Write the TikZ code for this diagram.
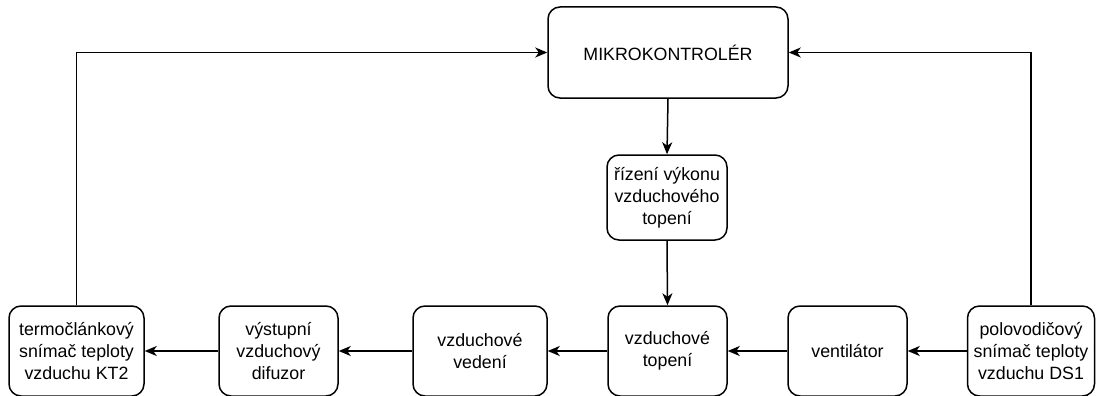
\documentclass[tikz,border=0pt]{standalone}
\usepackage{fontspec}
\setmainfont{Liberation Sans}
\usetikzlibrary{arrows.meta}
\begin{document}
\begin{tikzpicture}[x=1pt,y=-1pt,
  blk/.style={draw=black, line width=1.5pt, rounded corners=12pt, fill=white,
    align=center, inner sep=0pt,
    font=\fontsize{17.8}{22}\selectfont},
  conn/.style={draw=black, line width=1.5pt, -{Stealth[length=12pt,width=10pt,inset=3.5pt]}},
  link/.style={draw=black, line width=1.5pt}]
\useasboundingbox (0,0) rectangle (1098,396);
\node[blk, minimum width=240pt, minimum height=91pt] (mk) at (668,52.5) {MIKROKONTROLÉR};
\node[blk, minimum width=120pt, minimum height=85pt] (ctl) at (667,197.5) {řízení výkonu\\vzduchového\\topení};
\node[blk, minimum width=135pt, minimum height=90pt] (kt) at (76.5,351) {termočlánkový\\snímač teploty\\vzduchu KT2};
\node[blk, minimum width=119pt, minimum height=90pt] (dif) at (278.5,351) {výstupní\\vzduchový\\difuzor};
\node[blk, minimum width=134pt, minimum height=90pt] (ved) at (480,351) {vzduchové\\vedení};
\node[blk, minimum width=119pt, minimum height=90pt] (top) at (667.5,351) {vzduchové\\topení};
\node[blk, minimum width=119pt, minimum height=90pt] (ven) at (847.5,351) {ventilátor};
\node[blk, minimum width=127pt, minimum height=90pt] (ds) at (1031,351) {polovodičový\\snímač teploty\\vzduchu DS1};
\draw[conn] (mk.south) -- (ctl.north);
\draw[conn] (ctl.south) -- (top.north);
\draw[conn] (ds.west) -- (ven.east);
\draw[conn] (ven.west) -- (top.east);
\draw[conn] (top.west) -- (ved.east);
\draw[conn] (ved.west) -- (dif.east);
\draw[conn] (dif.west) -- (kt.east);
\draw[conn] (kt.north) |- (mk.west);
\draw[conn] (ds.north) |- (mk.east);
\end{tikzpicture}
\end{document}
